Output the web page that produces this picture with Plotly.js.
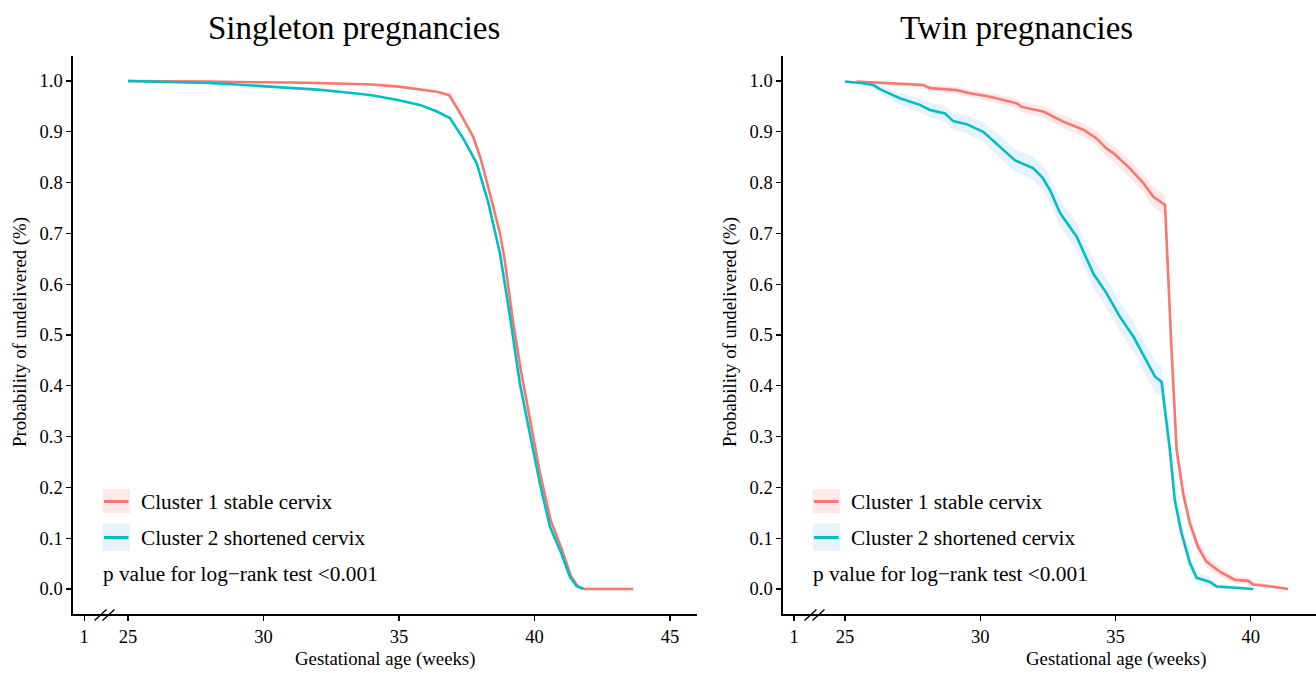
<!DOCTYPE html>
<html>
<head>
<meta charset="utf-8">
<script src="https://cdn.plot.ly/plotly-3.0.1.min.js"></script>
<style>html,body{margin:0;padding:0;background:#fff;}#chart{width:1316px;height:673px;}</style>
</head>
<body>
<div id="chart"></div>
<script>
// ---- Singleton pregnancies ----
const singleC1Weeks = [25, 26, 27, 28, 29, 30, 31, 32, 33, 34, 35, 35.8, 36.4, 36.86, 37.3, 37.74, 38.0, 38.25, 38.5, 38.73, 38.91, 39.2, 39.5, 39.85, 40.2, 40.6, 41.0, 41.35, 41.6, 41.85, 43.65];
const singleC1Prob  = [1.0, 1.0, 0.999, 0.999, 0.998, 0.998, 0.997, 0.996, 0.995, 0.993, 0.989, 0.984, 0.979, 0.972, 0.933, 0.890, 0.85, 0.80, 0.75, 0.70, 0.645, 0.53, 0.43, 0.33, 0.23, 0.135, 0.08, 0.025, 0.005, 0.0, 0.0];
const singleC2Weeks = [25, 26, 27, 28, 29, 30, 31, 32, 33, 34, 35, 35.77, 36.4, 36.88, 37.37, 37.87, 38.3, 38.73, 39.10, 39.46, 39.83, 40.20, 40.57, 40.94, 41.31, 41.55, 41.80];
const singleC2Prob  = [1.0, 0.999, 0.998, 0.996, 0.993, 0.99, 0.987, 0.983, 0.978, 0.972, 0.962, 0.953, 0.94, 0.927, 0.887, 0.838, 0.76, 0.66, 0.536, 0.405, 0.306, 0.208, 0.123, 0.077, 0.024, 0.006, 0.0];

// ---- Twin pregnancies ----
const twinC1Weeks = [25.43, 26.5, 27.9, 28.14, 29.13, 29.62, 30.36, 31.35, 31.53, 32.33, 33.07, 33.81, 34.30, 34.67, 34.92, 35.53, 36.03, 36.40, 36.83, 37.07, 37.26, 37.50, 37.75, 38.05, 38.36, 38.86, 39.41, 39.90, 40.09, 40.6, 41.38];
const twinC1Prob  = [0.999, 0.996, 0.992, 0.986, 0.982, 0.976, 0.969, 0.956, 0.949, 0.940, 0.920, 0.904, 0.887, 0.867, 0.858, 0.828, 0.799, 0.772, 0.756, 0.470, 0.274, 0.188, 0.129, 0.083, 0.054, 0.034, 0.018, 0.016, 0.009, 0.006, 0.0];
const twinC1Upper = [1.0, 0.999, 0.996, 0.991, 0.988, 0.983, 0.977, 0.965, 0.959, 0.951, 0.932, 0.917, 0.901, 0.882, 0.874, 0.845, 0.817, 0.791, 0.776, 0.49, 0.294, 0.206, 0.145, 0.097, 0.066, 0.044, 0.026, 0.023, 0.014, 0.01, 0.003];
const twinC1Lower = [0.996, 0.992, 0.987, 0.980, 0.975, 0.968, 0.960, 0.946, 0.938, 0.928, 0.907, 0.890, 0.872, 0.851, 0.841, 0.810, 0.780, 0.752, 0.735, 0.45, 0.255, 0.171, 0.114, 0.07, 0.043, 0.025, 0.011, 0.009, 0.004, 0.002, 0.0];

const twinC2Weeks = [25.0, 25.6, 26.05, 26.29, 27.03, 27.77, 28.14, 28.70, 29.0, 29.5, 30.11, 30.73, 31.28, 31.96, 32.3, 32.58, 32.95, 33.56, 34.18, 34.67, 35.16, 35.66, 36.15, 36.46, 36.70, 37.01, 37.19, 37.44, 37.75, 38.0, 38.49, 38.74, 39.3, 40.09];
const twinC2Prob  = [0.999, 0.996, 0.992, 0.984, 0.966, 0.953, 0.943, 0.936, 0.921, 0.915, 0.900, 0.871, 0.844, 0.828, 0.81, 0.785, 0.740, 0.694, 0.621, 0.582, 0.536, 0.497, 0.447, 0.418, 0.408, 0.274, 0.175, 0.110, 0.051, 0.022, 0.014, 0.005, 0.003, 0.0];
const twinC2Upper = [1.0, 0.999, 0.997, 0.991, 0.977, 0.966, 0.957, 0.951, 0.937, 0.932, 0.919, 0.892, 0.866, 0.851, 0.834, 0.810, 0.766, 0.721, 0.649, 0.611, 0.565, 0.527, 0.477, 0.448, 0.438, 0.30, 0.198, 0.130, 0.066, 0.033, 0.023, 0.011, 0.008, 0.002];
const twinC2Lower = [0.995, 0.991, 0.985, 0.975, 0.954, 0.939, 0.928, 0.920, 0.904, 0.897, 0.880, 0.850, 0.822, 0.805, 0.786, 0.760, 0.714, 0.667, 0.593, 0.553, 0.507, 0.467, 0.417, 0.388, 0.378, 0.248, 0.153, 0.090, 0.036, 0.011, 0.005, 0.0, 0.0, 0.0];

// ---- Labels ----
const panelTitles = ["Singleton pregnancies", "Twin pregnancies"];
const seriesNames = ["Cluster 1 stable cervix", "Cluster 2 shortened cervix"];
const pText = "p value for log\u2212rank test <0.001";
const xTitle = "Gestational age (weeks)";
const yTitle = "Probability of undelivered (%)";
const leftTickVals = [23.38, 25, 30, 35, 40, 45];
const leftTickText = ["1", "25", "30", "35", "40", "45"];
const rightTickVals = [23.12, 25, 30, 35, 40];
const rightTickText = ["1", "25", "30", "35", "40"];
const yTickVals = [0, 0.1, 0.2, 0.3, 0.4, 0.5, 0.6, 0.7, 0.8, 0.9, 1.0];

const RED = "#F8766D", CYAN = "#00BFC4";
const RED_FILL = "rgba(248,118,109,0.16)", CYAN_FILL = "rgba(110,180,245,0.17)";
const W = 1316, H = 673;
const px = v => v / W, py = v => 1 - v / H;
const FONT = "Liberation Serif, Times New Roman, serif";

function band(xs, hi, lo, fill, xa, ya) {
  return {x: xs.concat(xs.slice().reverse()), y: hi.concat(lo.slice().reverse()),
    fill: "toself", fillcolor: fill, line: {width: 0}, mode: "lines",
    hoverinfo: "skip", showlegend: false, xaxis: xa, yaxis: ya};
}
function line(xs, ys, color, xa, ya) {
  return {x: xs, y: ys, mode: "lines", line: {color: color, width: 2.6},
    showlegend: false, xaxis: xa, yaxis: ya};
}

const traces = [
  line(singleC1Weeks, singleC1Prob, RED, "x", "y"),
  line(singleC2Weeks, singleC2Prob, CYAN, "x", "y"),
  band(twinC1Weeks, twinC1Upper, twinC1Lower, RED_FILL, "x2", "y2"),
  band(twinC2Weeks, twinC2Upper, twinC2Lower, CYAN_FILL, "x2", "y2"),
  line(twinC1Weeks, twinC1Prob, RED, "x2", "y2"),
  line(twinC2Weeks, twinC2Prob, CYAN, "x2", "y2")
];

const axisCommon = {showline: true, linecolor: "#000", linewidth: 1.6, ticks: "outside",
  ticklen: 5, tickwidth: 1.2, tickcolor: "#000", showgrid: false, zeroline: false,
  tickfont: {family: FONT, size: 18.5, color: "#000"}, fixedrange: true};

const yDomain = [py(614.4), py(55.6)];

const layout = {
  width: W, height: H, autosize: false,
  margin: {l: 0, r: 0, t: 0, b: 0, pad: 0},
  paper_bgcolor: "#fff", plot_bgcolor: "#fff",
  font: {family: FONT, color: "#000"},
  xaxis: Object.assign({}, axisCommon, {domain: [px(73), px(697)], range: [22.97, 46.0],
    tickmode: "array", tickvals: leftTickVals, ticktext: leftTickText, anchor: "y"}),
  yaxis: Object.assign({}, axisCommon, {domain: yDomain, range: [-0.05, 1.05],
    tickmode: "array", tickvals: yTickVals, tickformat: ".1f", anchor: "x"}),
  xaxis2: Object.assign({}, axisCommon, {domain: [px(783), 1], range: [22.71, 42.41],
    tickmode: "array", tickvals: rightTickVals, ticktext: rightTickText, anchor: "y2"}),
  yaxis2: Object.assign({}, axisCommon, {domain: yDomain, range: [-0.05, 1.05],
    tickmode: "array", tickvals: yTickVals, tickformat: ".1f", anchor: "x2"}),
  shapes: [], annotations: []
};

const panels = [{x0: 73, title: panelTitles[0], titleX: 354, xTitleX: 385},
                {x0: 783, title: panelTitles[1], titleX: 1016, xTitleX: 1116}];
panels.forEach(p => {
  const o = p.x0 - 73;
  layout.annotations.push(
    {text: p.title, x: px(p.titleX), y: py(28), xref: "paper", yref: "paper", showarrow: false,
     xanchor: "center", yanchor: "middle", font: {family: FONT, size: 33, color: "#000"}},
    {text: xTitle, x: px(p.xTitleX), y: py(659), xref: "paper", yref: "paper", showarrow: false,
     xanchor: "center", yanchor: "middle", font: {family: FONT, size: 18.8, color: "#000"}},
    {text: yTitle, x: px(20 + o), y: py(332), xref: "paper", yref: "paper", showarrow: false,
     textangle: -90, xanchor: "center", yanchor: "middle", font: {family: FONT, size: 18.8, color: "#000"}},
    {text: seriesNames[0], x: px(139 + o), y: py(501.5), xref: "paper", yref: "paper", showarrow: false,
     xanchor: "left", yanchor: "middle", font: {family: FONT, size: 21.3, color: "#000"}},
    {text: seriesNames[1], x: px(139 + o), y: py(538), xref: "paper", yref: "paper", showarrow: false,
     xanchor: "left", yanchor: "middle", font: {family: FONT, size: 21.3, color: "#000"}},
    {text: pText, x: px(101 + o), y: py(574), xref: "paper", yref: "paper", showarrow: false,
     xanchor: "left", yanchor: "middle", font: {family: FONT, size: 21.3, color: "#000"}}
  );
  layout.shapes.push(
    {type: "rect", xref: "paper", yref: "paper", x0: px(102.7 + o), x1: px(130 + o), y0: py(513.3), y1: py(489.3),
     fillcolor: RED_FILL, line: {width: 0}},
    {type: "rect", xref: "paper", yref: "paper", x0: px(102.7 + o), x1: px(130 + o), y0: py(550.7), y1: py(523.3),
     fillcolor: CYAN_FILL, line: {width: 0}},
    {type: "line", xref: "paper", yref: "paper", x0: px(104 + o), x1: px(128.5 + o), y0: py(501.5), y1: py(501.5),
     line: {color: RED, width: 3}},
    {type: "line", xref: "paper", yref: "paper", x0: px(104 + o), x1: px(128.5 + o), y0: py(537.5), y1: py(537.5),
     line: {color: CYAN, width: 3}},
    {type: "line", xref: "paper", yref: "paper", x0: px(94.5 + o), x1: px(106.5 + o), y0: py(620.5), y1: py(609.5),
     line: {color: "#000", width: 1.4}},
    {type: "line", xref: "paper", yref: "paper", x0: px(102.5 + o), x1: px(114.5 + o), y0: py(620.5), y1: py(609.5),
     line: {color: "#000", width: 1.4}}
  );
});

Plotly.newPlot("chart", traces, layout, {displayModeBar: false, staticPlot: true});
</script>
</body>
</html>
